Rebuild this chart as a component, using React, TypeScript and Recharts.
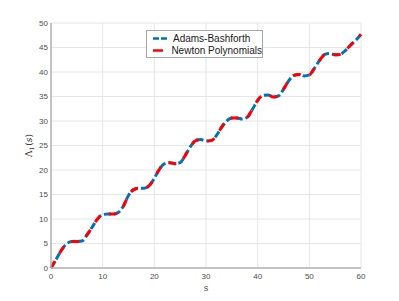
import { LineChart, Line, XAxis, YAxis, CartesianGrid } from "recharts";

// values
const S = [
  0, 1, 2, 3, 4, 5, 6, 7, 8, 9, 10, 11, 12, 13, 14, 15, 16, 17, 18, 19, 20,
  21, 22, 23, 24, 25, 26, 27, 28, 29, 30, 31, 32, 33, 34, 35, 36, 37, 38, 39, 40,
  41, 42, 43, 44, 45, 46, 47, 48, 49, 50, 51, 52, 53, 54, 55, 56, 57, 58, 59, 60,
];
const ADAMS = [
  0, 1.8, 3.6, 4.9, 5.4, 5.4, 5.5, 6.8, 8.4, 10.0, 10.9, 11.0, 11.0, 11.3, 12.6, 14.8, 16.0, 16.3, 16.3, 16.8, 18.3,
  20.2, 21.3, 21.5, 21.3, 21.5, 23.0, 24.8, 26.0, 26.2, 25.9, 26.0, 27.0, 28.7, 30.0, 30.6, 30.6, 30.4, 30.8, 32.4, 34.2,
  35.2, 35.3, 34.9, 35.1, 36.5, 38.2, 39.3, 39.5, 39.2, 39.4, 40.8, 42.4, 43.6, 43.8, 43.5, 43.6, 44.4, 45.5, 46.5, 47.7,
];
const NEWTON = [
  0, 1.8, 3.6, 4.9, 5.4, 5.4, 5.5, 6.8, 8.4, 10.0, 10.9, 11.0, 11.0, 11.3, 12.6, 14.8, 16.0, 16.3, 16.3, 16.8, 18.3,
  20.2, 21.3, 21.5, 21.3, 21.5, 23.0, 24.8, 26.0, 26.2, 25.9, 26.0, 27.0, 28.7, 30.0, 30.6, 30.6, 30.4, 30.8, 32.4, 34.2,
  35.2, 35.3, 34.9, 35.1, 36.5, 38.2, 39.3, 39.5, 39.2, 39.4, 40.8, 42.4, 43.6, 43.8, 43.5, 43.6, 44.4, 45.5, 46.5, 47.7,
];
const X_TICKS = [0, 10, 20, 30, 40, 50, 60];
const Y_TICKS = [0, 5, 10, 15, 20, 25, 30, 35, 40, 45, 50];

const BLUE = "#0072BD";
const RED = "#FF0000";
const TICK_FONT = { fontSize: 8, fill: "#4d4d4d", fontFamily: "Liberation Sans, Arial, sans-serif" };

const data = S.map((s, i) => ({ s, adams: ADAMS[i], newton: NEWTON[i] }));

const LegendBox = () => (
  <div
    style={{
      position: "absolute",
      left: 146,
      top: 30,
      border: "1px solid #a6a6a6",
      background: "#fff",
      width: 117,
      height: 28,
      boxSizing: "border-box",
      fontFamily: "Liberation Sans, Arial, sans-serif",
      fontSize: 10,
      color: "#1a1a1a",
      lineHeight: "11.5px",
      paddingTop: 2,
      whiteSpace: "nowrap",
    }}
  >
    <div style={{ display: "flex", alignItems: "center" }}>
      <svg width={26} height={11}>
        <line x1={6} y1={5.5} x2={21} y2={5.5} stroke={BLUE} strokeWidth={2.5} strokeDasharray="6 2" />
      </svg>
      <span>Adams-Bashforth</span>
    </div>
    <div style={{ display: "flex", alignItems: "center" }}>
      <svg width={26} height={11}>
        <line x1={6} y1={5.5} x2={16} y2={5.5} stroke={RED} strokeWidth={2.5} />
      </svg>
      <span>Newton Polynomials</span>
    </div>
  </div>
);

const YLabel = ({ viewBox }: any) => {
  const cx = 32;
  const cy = viewBox.y + viewBox.height / 2;
  return (
    <text
      transform={`translate(${cx},${cy}) rotate(-90)`}
      textAnchor="middle"
      fontFamily="DejaVu Serif, serif"
      fontSize={9}
      fill="#333"
    >
      <tspan>Λ</tspan>
      <tspan fontSize={6} dy={2}>1</tspan>
      <tspan dy={-2} dx={1}>(</tspan>
      <tspan fontStyle="italic">s</tspan>
      <tspan>)</tspan>
    </text>
  );
};

const XLabel = ({ viewBox }: any) => (
  <text
    x={viewBox.x + viewBox.width / 2}
    y={291}
    textAnchor="middle"
    fontFamily="DejaVu Serif, serif"
    fontSize={9}
    fill="#4d4d4d"
  >
    s
  </text>
);

export default function App() {
  return (
    <div style={{ position: "absolute", left: 0, top: 0, width: 399, height: 301, background: "#fff" }}>
      <LineChart width={399} height={301} data={data} margin={{ top: 23, right: 38, bottom: 3, left: 11 }}>
        <CartesianGrid stroke="#e6e6e6" strokeWidth={1} />
        <XAxis
          dataKey="s"
          type="number"
          domain={[0, 60]}
          ticks={X_TICKS}
          height={30}
          tickLine={false}
          tickSize={0}
          tickMargin={5}
          tick={TICK_FONT}
          axisLine={{ stroke: "#b3b3b3", strokeWidth: 1.5 }}
          label={<XLabel />}
        />
        <YAxis
          type="number"
          domain={[0, 50]}
          ticks={Y_TICKS}
          width={40}
          tickLine={false}
          tickSize={0}
          tickMargin={3}
          tick={TICK_FONT}
          axisLine={{ stroke: "#b3b3b3", strokeWidth: 1.5 }}
          label={<YLabel />}
        />
        <Line
          type="monotone"
          dataKey="adams"
          stroke={BLUE}
          strokeWidth={3}
          strokeDasharray="7 3"
          dot={false}
          isAnimationActive={false}
        />
        <Line
          type="monotone"
          dataKey="newton"
          stroke={RED}
          strokeWidth={3}
          strokeDasharray="8 9"
          dot={false}
          isAnimationActive={false}
        />
      </LineChart>
      <LegendBox />
    </div>
  );
}
